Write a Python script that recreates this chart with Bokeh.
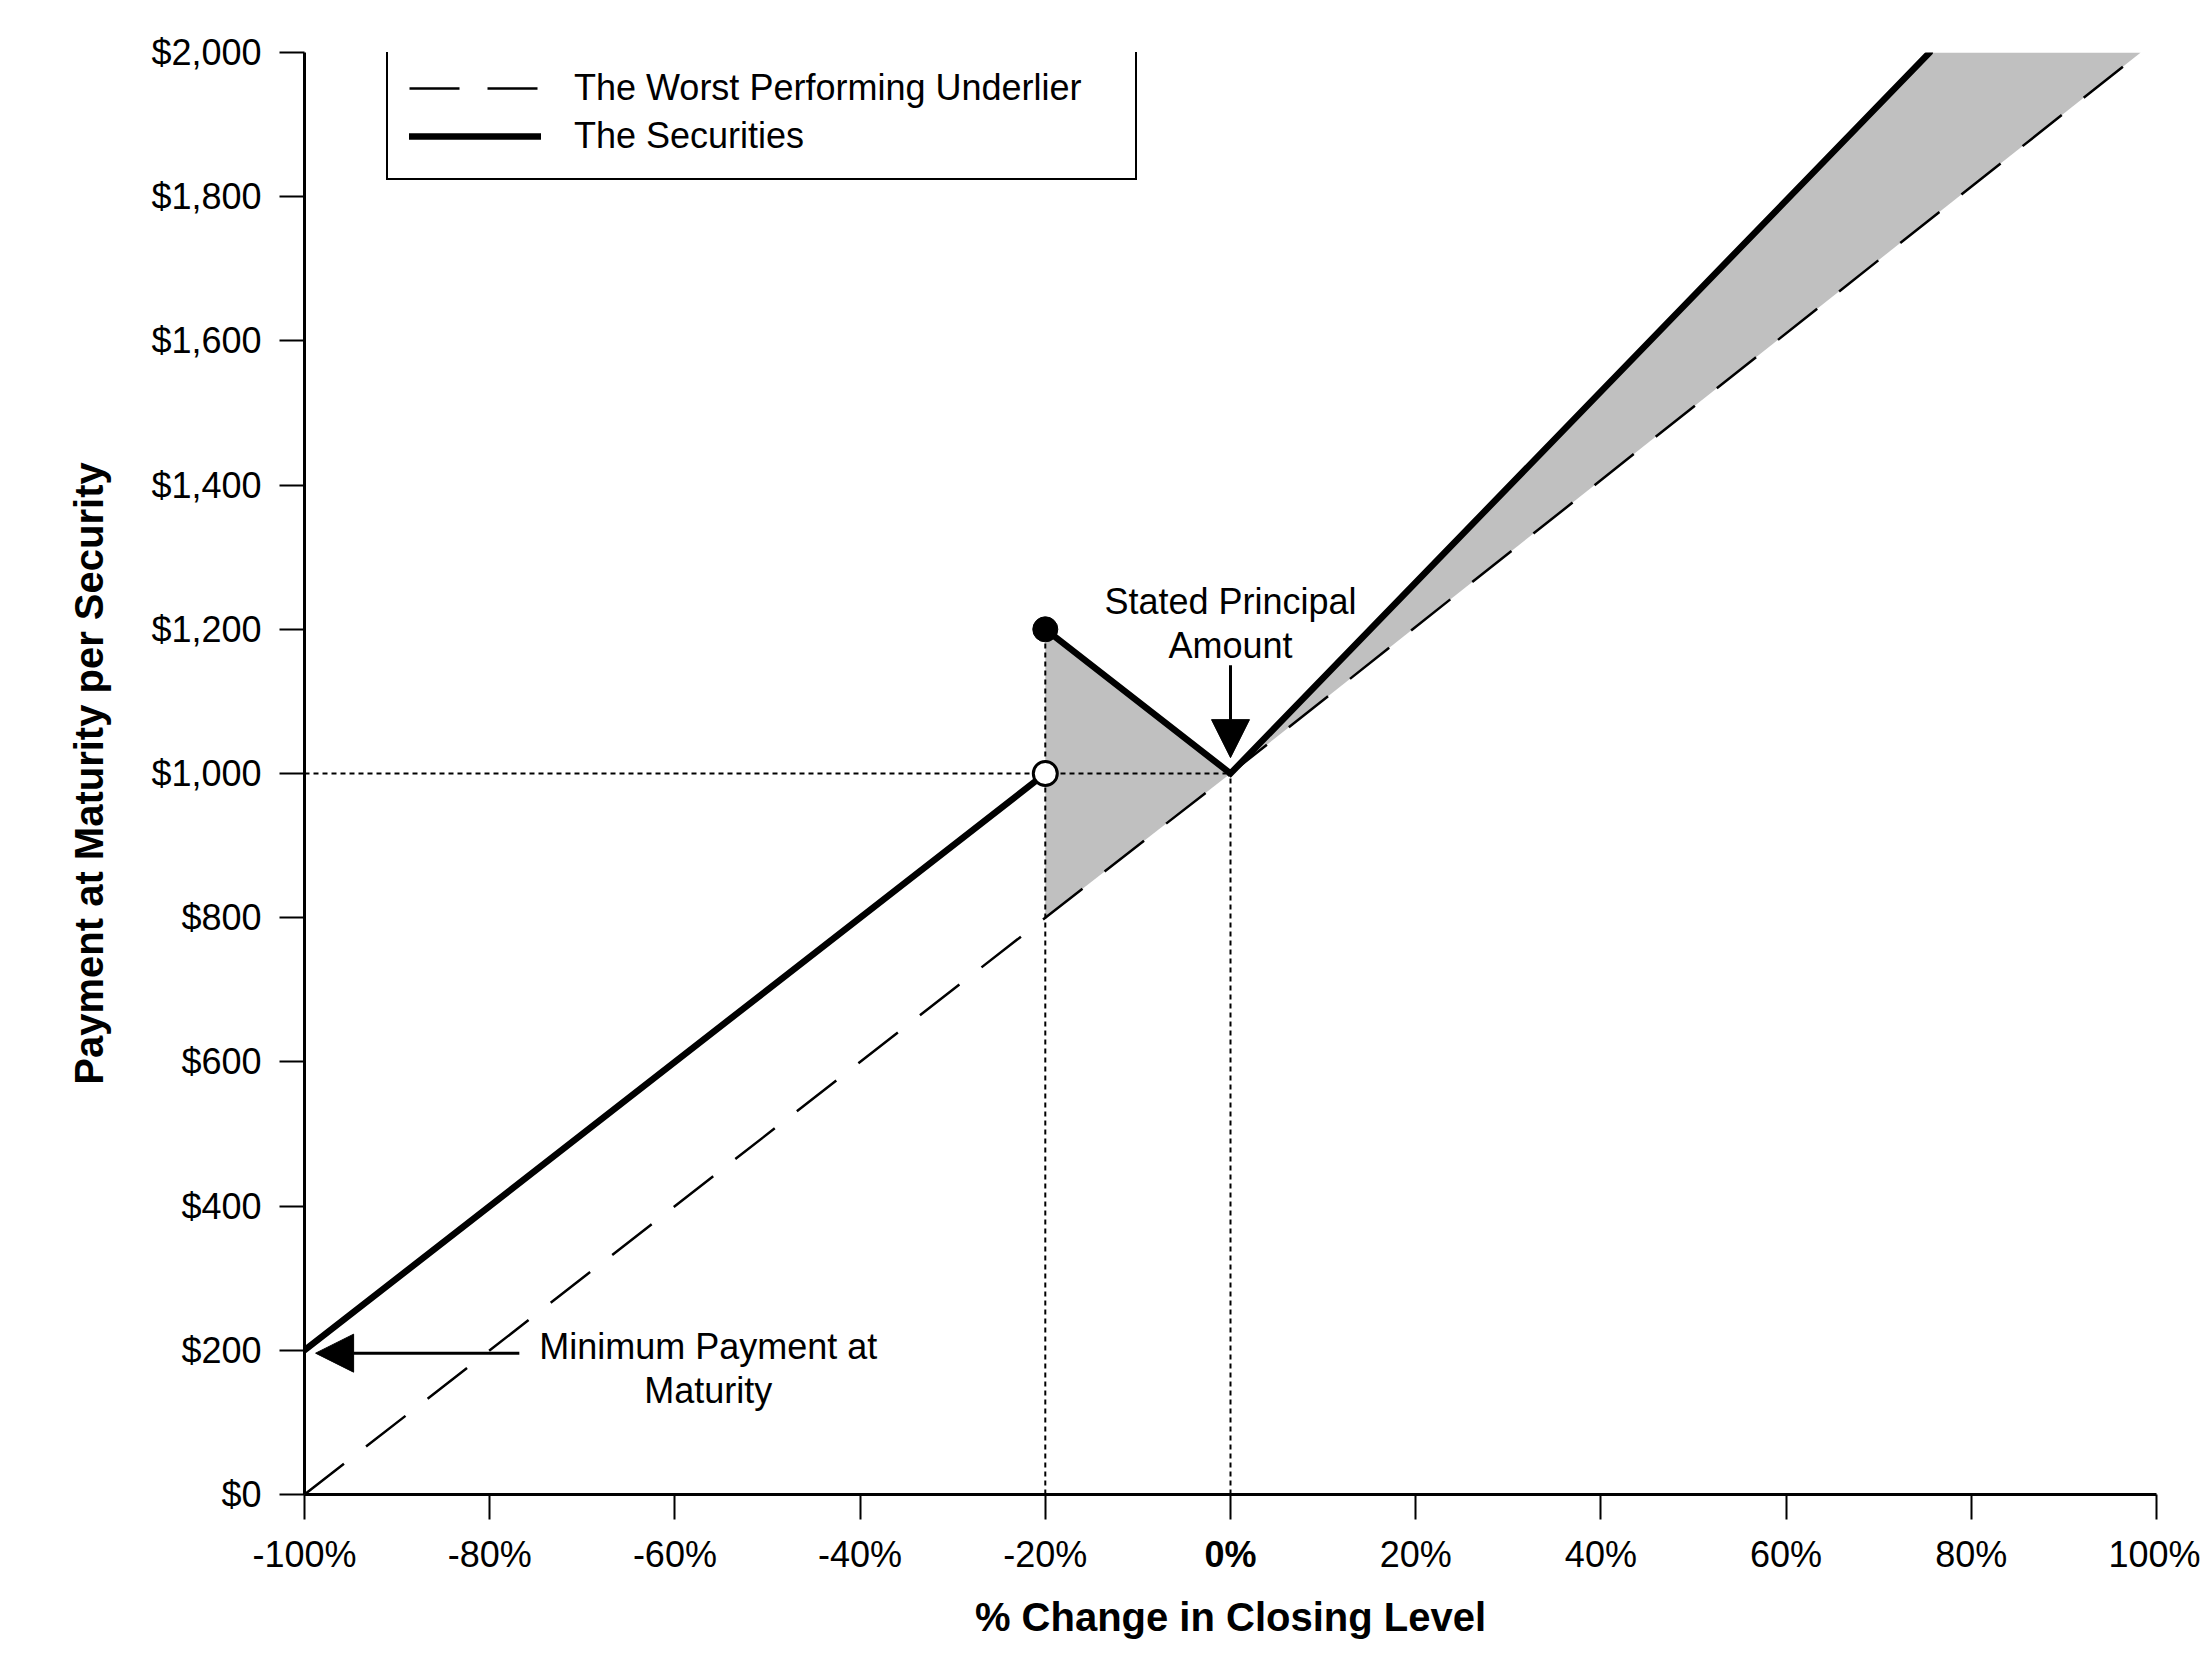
import numpy as np
from bokeh.plotting import figure
from bokeh.models import (Range1d, FixedTicker, Legend, LegendItem, Arrow,
                          NormalHead, Label)
from bokeh.core.properties import value
from bokeh.embed import file_html
from bokeh.resources import INLINE

# ---------------- data ----------------
x_ticks = [-100, -80, -60, -40, -20, 0, 20, 40, 60, 80, 100]
x_tick_labels = ["-100%", "-80%", "-60%", "-40%", "-20%", "0%", "20%", "40%", "60%", "80%", "100%"]
y_ticks = [0, 200, 400, 600, 800, 1000, 1200, 1400, 1600, 1800, 2000]
y_tick_labels = ["$0", "$200", "$400", "$600", "$800", "$1,000", "$1,200",
                 "$1,400", "$1,600", "$1,800", "$2,000"]

underlier_x = [-100, 0, 98.3]
underlier_y = [0, 1000, 2000]

sec_low_x = [-100, -20]
sec_low_y = [200, 1000]
sec_high_x = [-20, 0, 75.5]
sec_high_y = [1200, 1000, 2000]

barrier = -20
principal = 1000
closed_pt = (-20, 1200)
open_pt = (-20, 1000)

FONT = "Liberation Sans"

# ---------------- figure ----------------
p = figure(width=2200, height=1662,
           x_range=Range1d(-100, 100), y_range=Range1d(0, 2000),
           output_backend="svg", toolbar_location=None,
           min_border_left=304, min_border_right=44,
           min_border_top=52, min_border_bottom=168)
p.outline_line_color = None
p.xgrid.visible = False
p.ygrid.visible = False
p.background_fill_color = "white"
p.border_fill_color = "white"

# shaded regions between securities and underlier
under_at_barrier = float(np.interp(barrier, underlier_x, underlier_y))
fill_xs = [[barrier, barrier, sec_high_x[1]],
           [sec_high_x[1], sec_high_x[2], underlier_x[2]]]
fill_ys = [[under_at_barrier, sec_high_y[0], sec_high_y[1]],
           [sec_high_y[1], sec_high_y[2], underlier_y[2]]]
p.patches(xs=fill_xs, ys=fill_ys, fill_color="#c0c0c0", line_color=None)

# dotted reference lines
p.line(x=[-100, 0], y=[principal, principal], line_color="black",
       line_width=2, line_dash="5 4")
p.line(x=[barrier, barrier], y=[0, closed_pt[1]], line_color="black",
       line_width=2, line_dash="5 4")
p.line(x=[0, 0], y=[0, principal], line_color="black",
       line_width=2, line_dash="5 4")

# series
r_under = p.line(x=underlier_x, y=underlier_y, line_color="black",
                 line_width=2.5, line_dash="50 28")
r_sec1 = p.line(x=sec_low_x, y=sec_low_y, line_color="black", line_width=6.5,
                line_cap="round")
r_sec2 = p.line(x=sec_high_x, y=sec_high_y, line_color="black", line_width=6.5,
                line_cap="round", line_join="miter")

p.scatter(x=[closed_pt[0]], y=[closed_pt[1]], size=25, marker="circle",
          fill_color="black", line_color="black")
p.scatter(x=[open_pt[0]], y=[open_pt[1]], size=24, marker="circle",
          fill_color="white", line_color="black", line_width=3)

# annotations
p.text(x=[0, 0], y=[1239, 1178], text=["Stated Principal", "Amount"],
       text_align="center", text_baseline="alphabetic",
       text_font=value(FONT), text_font_size="36px", text_color="black")
p.text(x=[-56.4, -56.4], y=[205, 144], text=["Minimum Payment at", "Maturity"],
       text_align="center", text_baseline="alphabetic",
       text_font=value(FONT), text_font_size="36px", text_color="black")

p.add_layout(Arrow(end=NormalHead(size=38, fill_color="black", line_color="black"),
                   x_start=0, y_start=1150, x_end=0, y_end=1022,
                   line_color="black", line_width=3))
p.add_layout(Arrow(end=NormalHead(size=38, fill_color="black", line_color="black"),
                   x_start=-76.8, y_start=196, x_end=-98.8, y_end=196,
                   line_color="black", line_width=3))

# axes
for ax in (p.xaxis[0], p.yaxis[0]):
    ax.axis_line_width = 3
    ax.axis_line_color = "black"
    ax.major_tick_line_width = 2
    ax.major_tick_line_color = "black"
    ax.major_tick_out = 25
    ax.major_tick_in = 0
    ax.minor_tick_line_color = None
    ax.major_label_text_font = FONT
    ax.major_label_text_font_size = "36px"
    ax.major_label_text_color = "black"
    ax.axis_label_text_font = FONT
    ax.axis_label_text_font_size = "40px"
    ax.axis_label_text_font_style = "bold"
    ax.axis_label_text_color = "black"

p.xaxis[0].ticker = FixedTicker(ticks=x_ticks)
x_over = {t: l for t, l in zip(x_ticks, x_tick_labels)}
x_over[0] = ""
p.xaxis[0].major_label_overrides = x_over
p.xaxis[0].major_label_standoff = 14
p.xaxis[0].axis_label = "% Change in Closing Level"
p.xaxis[0].axis_label_standoff = 17

p.yaxis[0].ticker = FixedTicker(ticks=y_ticks)
p.yaxis[0].major_label_overrides = {t: l for t, l in zip(y_ticks, y_tick_labels)}
p.yaxis[0].major_label_standoff = 18
p.yaxis[0].axis_label = "Payment at Maturity per Security"
p.yaxis[0].axis_label_standoff = 37

# bold 0% tick label (placed in a side panel so it is not clipped to the frame)
p.add_layout(Label(x=0, y=0, x_units="data", y_units="data",
                   text=x_tick_labels[5], text_align="center", text_baseline="top",
                   y_offset=-39, text_font=FONT, text_font_size="36px",
                   text_font_style="bold", text_color="black"), "left")

# legend
legend = Legend(items=[LegendItem(label="The Worst Performing Underlier", renderers=[r_under]),
                       LegendItem(label="The Securities", renderers=[r_sec2])],
                location=(82, 1442 - 128))
legend.border_line_color = "black"
legend.border_line_width = 2.5
legend.border_line_alpha = 1
legend.background_fill_color = "white"
legend.background_fill_alpha = 1
legend.label_text_font = FONT
legend.label_text_font_size = "36px"
legend.label_text_color = "black"
legend.glyph_width = 132
legend.glyph_height = 40
legend.label_height = 40
legend.label_width = 540
legend.label_standoff = 33
legend.spacing = 6
legend.padding = 21
legend.margin = 0
p.add_layout(legend)

open("out.html", "w").write(file_html(p, INLINE))
